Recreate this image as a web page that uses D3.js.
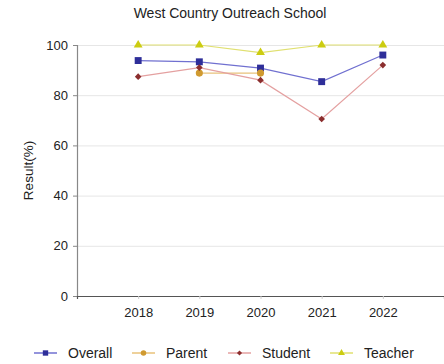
<!DOCTYPE html>
<html lang="en">
<head>
<meta charset="utf-8">
<title>West Country Outreach School</title>
<script src="https://cdn.jsdelivr.net/npm/d3@7"></script>
<style>
    body { margin: 0; background: #fff; }
    svg text { font-family: "Liberation Sans", Arial, sans-serif; fill: #222; }
    .grid line { stroke: #e6e6e6; }
    .grid path { display: none; }
</style>
</head>
<body>
<div id="chart"></div>
<script>

var years = [2018, 2019, 2020, 2021, 2022];
var overall = [93.8, 93.3, 90.8, 85.4, 96.0];
var parent = [null, 88.8, 88.8, null, null];
var student = [87.4, 91.0, 86.0, 70.5, 92.0];
var teacher = [100, 100, 97.0, 100, 100];
var yTicks = [0, 20, 40, 60, 80, 100];

var series = [
    {name: "Overall", values: overall, line: "#7070d0", fill: "#2e2e99", shape: d3.symbolSquare, size: 48, rot: 0},
    {name: "Parent", values: parent, line: "#e8c27a", fill: "#d09a30", shape: d3.symbolCircle, size: 40, rot: 0},
    {name: "Student", values: student, line: "#e4a0a0", fill: "#8b2e2e", shape: d3.symbolSquare, size: 22, rot: 45},
    {name: "Teacher", values: teacher, line: "#e0e070", fill: "#cccc10", shape: d3.symbolTriangle, size: 34, rot: 0}
];

var W = 444, H = 364;
var margin = {top: 45, right: 0, bottom: 68, left: 77};
var width = W - margin.left - margin.right,
    height = H - margin.top - margin.bottom;

var svg = d3.select("#chart").append("svg")
    .attr("width", W)
    .attr("height", H);

var g = svg.append("g")
    .attr("transform", "translate(" + margin.left + "," + margin.top + ")");

var x = d3.scaleLinear().domain([2017, 2023]).range([0, width]);
var y = d3.scaleLinear().domain([0, 100]).range([height, 0]);

// gridlines
g.append("g")
    .attr("class", "grid")
    .call(d3.axisLeft(y).tickValues(yTicks).tickSize(-width).tickFormat(""));

// y axis
var yAxis = g.append("g")
    .call(d3.axisLeft(y).tickValues(yTicks).tickSize(4).tickPadding(5));
yAxis.select(".domain").attr("stroke", "#888").attr("stroke-width", 1.2);
yAxis.selectAll(".tick line").attr("stroke", "#888");
yAxis.selectAll("text").style("font-size", "13px");

// x axis
var xAxis = g.append("g")
    .attr("transform", "translate(0," + height + ")")
    .call(d3.axisBottom(x).tickValues(years).tickFormat(d3.format("d")).tickSize(3).tickPadding(9));
xAxis.select(".domain").attr("stroke", "#555").attr("stroke-width", 1.2);
xAxis.selectAll(".tick line").attr("stroke", "#ccc");
xAxis.selectAll("text").style("font-size", "13px");

// lines and markers
series.forEach(function (s) {
    var pts = years.map(function (yr, i) { return [yr, s.values[i]]; });
    var line = d3.line()
        .defined(function (d) { return d[1] != null; })
        .x(function (d) { return x(d[0]); })
        .y(function (d) { return y(d[1]); });

    g.append("path")
        .datum(pts)
        .attr("fill", "none")
        .attr("stroke", s.line)
        .attr("stroke-width", 1.2)
        .attr("d", line);

    g.selectAll(null)
        .data(pts.filter(function (d) { return d[1] != null; }))
        .enter()
        .append("path")
        .attr("d", d3.symbol().type(s.shape).size(s.size))
        .attr("transform", function (d) {
            return "translate(" + x(d[0]) + "," + y(d[1]) + ") rotate(" + s.rot + ")";
        })
        .attr("fill", s.fill);
});

// title
svg.append("text")
    .attr("x", 230)
    .attr("y", 18)
    .attr("text-anchor", "middle")
    .style("font-size", "14px")
    .text("West Country Outreach School");

// y label
svg.append("text")
    .attr("transform", "translate(33," + (margin.top + height / 2) + ") rotate(-90)")
    .attr("text-anchor", "middle")
    .style("font-size", "13.5px")
    .text("Result(%)");

// legend
var legendX = [34, 132, 228, 330];
var legend = svg.selectAll(".legend")
    .data(series)
    .enter()
    .append("g")
    .attr("transform", function (d, i) { return "translate(" + legendX[i] + ",353)"; });

legend.append("line")
    .attr("x1", 0).attr("x2", 23)
    .attr("stroke", function (d) { return d.line; })
    .attr("stroke-width", 1.5);

legend.append("path")
    .attr("d", function (d) { return d3.symbol().type(d.shape).size(d.size * 0.6)(); })
    .attr("transform", function (d) { return "translate(11.5,0) rotate(" + d.rot + ")"; })
    .attr("fill", function (d) { return d.fill; });

legend.append("text")
    .attr("x", 34)
    .attr("dy", "0.35em")
    .style("font-size", "14px")
    .text(function (d) { return d.name; });

</script>
</body>
</html>
